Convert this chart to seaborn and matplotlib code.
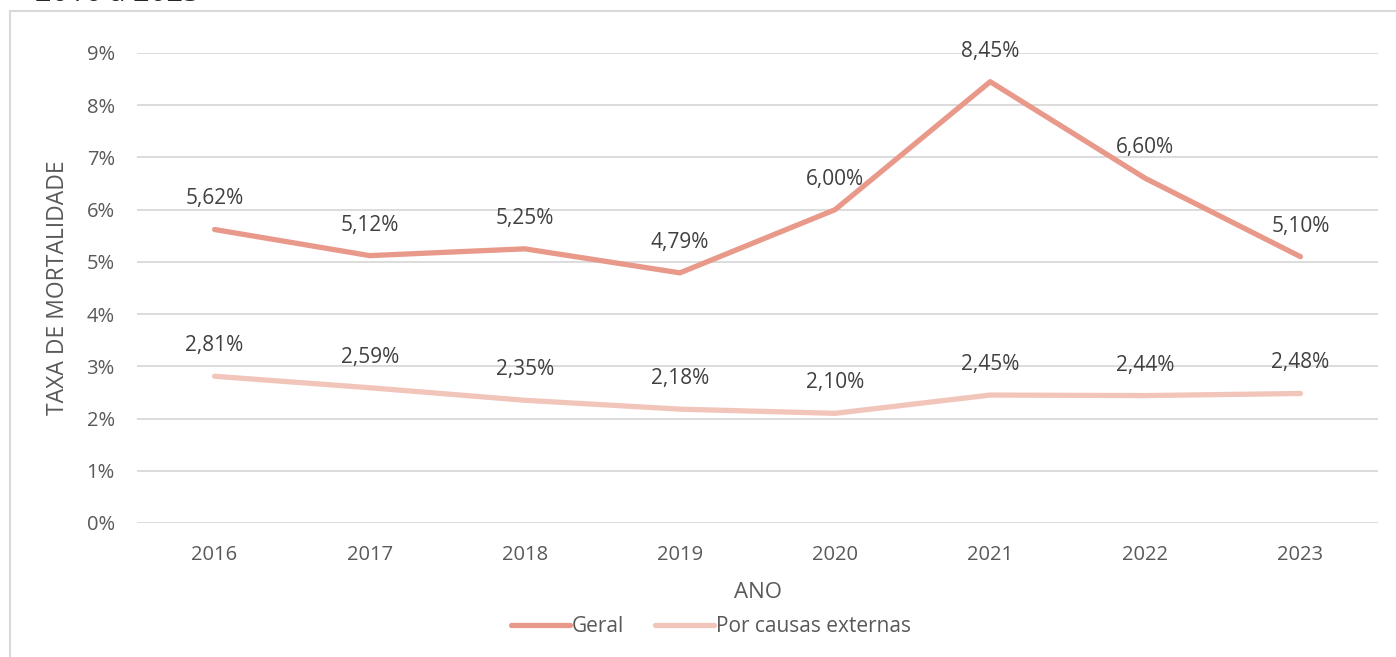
import pandas as pd
import seaborn as sns
import matplotlib.pyplot as plt
from matplotlib.patches import Rectangle
from matplotlib.ticker import PercentFormatter

anos = ["2016", "2017", "2018", "2019", "2020", "2021", "2022", "2023"]
geral = [5.62, 5.12, 5.25, 4.79, 6.00, 8.45, 6.60, 5.10]
externas = [2.81, 2.59, 2.35, 2.18, 2.10, 2.45, 2.44, 2.48]
series = ["Geral", "Por causas externas"]
cores = ["#E8998A", "#F2C5BB"]

df = pd.DataFrame({"ano": anos * 2,
                   "taxa": geral + externas,
                   "serie": [series[0]] * 8 + [series[1]] * 8})

sns.set_theme(style="white")
plt.rcParams['font.family'] = ['Open Sans', 'DejaVu Sans']

fig = plt.figure(figsize=(13.96, 6.57), dpi=100)
ax = fig.add_axes([137 / 1396, 1 - 523 / 657, (1378 - 137) / 1396, (523 - 53) / 657])

sns.lineplot(data=df, x="ano", y="taxa", hue="serie", palette=cores,
             linewidth=3.8, ax=ax, sort=False, solid_capstyle="round")

# rótulos de dados acima de cada ponto
for vals in (geral, externas):
    for i, v in enumerate(vals):
        ax.annotate(f"{v:.2f}%".replace(".", ","), (i, v), xytext=(0, 22),
                    textcoords="offset points", ha="center", va="center",
                    fontsize=15, color="#404040")

ax.set_xlim(-0.5, 7.5)
ax.set_ylim(0, 9)
ax.set_yticks(range(0, 10))
ax.yaxis.set_major_formatter(PercentFormatter(decimals=0))
ax.grid(axis="y", color="#D9D9D9", linewidth=1.3)
ax.set_axisbelow(True)
for s in ax.spines.values():
    s.set_visible(False)
ax.tick_params(axis="both", length=0, labelsize=14.5, labelcolor="#595959")
ax.tick_params(axis="y", pad=16)
ax.tick_params(axis="x", pad=16)
ax.set_xlabel("ANO", fontsize=16, color="#595959", labelpad=12)
ax.set_ylabel("TAXA DE MORTALIDADE", fontsize=16.5, color="#595959", labelpad=12)
ax.get_legend().remove()

handles, labels = ax.get_lines()[:2], series
fig.legend(handles, labels, loc="center", bbox_to_anchor=(711 / 1396, 1 - 627 / 657),
           ncol=2, frameon=False, fontsize=15, labelcolor="#595959",
           handlelength=2.8, handletextpad=0.1, columnspacing=1.5)

fig.patches.append(Rectangle((10 / 1396, -0.1), 1.2, 1.1 - 11 / 657,
                             transform=fig.transFigure, fill=False,
                             edgecolor="#D9D9D9", linewidth=1.5))
fig.text(35 / 1396, 1 - 1 / 657, "2016 a 2023", fontsize=21, color="#262626",
         va="baseline", ha="left")

fig.savefig("out.png", dpi=100)
